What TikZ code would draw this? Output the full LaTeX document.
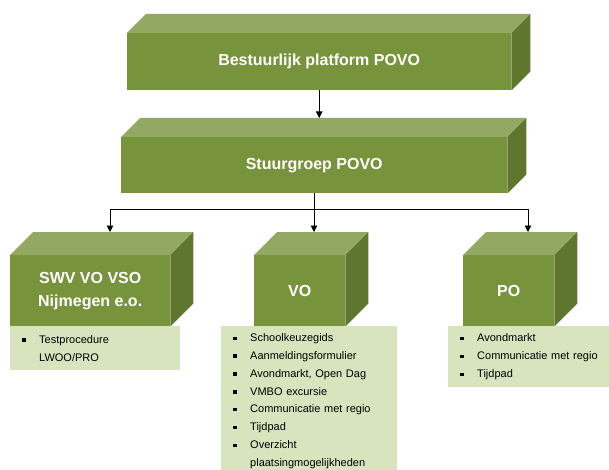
\documentclass[tikz,border=0pt]{standalone}
\usepackage{fontspec}
\setmainfont{Liberation Sans}
\usetikzlibrary{calc,arrows.meta}

\definecolor{voorgroen}{HTML}{77933C}
\definecolor{dakgroen}{HTML}{93A862}
\definecolor{zijgroen}{HTML}{5F762F}
\definecolor{lijstgroen}{HTML}{D7E4BD}

% top and side face of a block: #1 = front node, #2 = depth
\newcommand{\blokvlakken}[2]{
    \fill[dakgroen] (#1.north west) -- ++(#2,-#2) -- ($(#1.north east)+(#2,-#2)$) -- (#1.north east) -- cycle;
    \fill[zijgroen] (#1.north east) -- ++(#2,-#2) -- ($(#1.south east)+(#2,-#2)$) -- (#1.south east) -- cycle;
}
\newcommand{\punt}{\rule[1.5pt]{3.3pt}{3.3pt}\hspace{13.7pt}}
\newcommand{\inspring}{\hspace*{17pt}}

\begin{document}
\begin{tikzpicture}[x=1pt,y=-1pt,
    blok/.style={fill=voorgroen,text=white,font=\fontsize{16}{23}\selectfont\bfseries,align=center,inner sep=0pt,anchor=north west},
    lijst/.style={fill=lijstgroen,anchor=north west,align=left,inner xsep=12pt,inner ysep=6pt,font=\fontsize{11}{17.9}\selectfont},
    pijl/.style={-{Triangle[length=6.5pt,width=6.5pt]},line width=0.9pt}]
    \clip (0,0) rectangle (609,470);

    % Front faces
    \node[blok,minimum width=384pt,minimum height=57pt] (bestuur) at (127,33) {Bestuurlijk platform POVO};
    \node[blok,minimum width=386pt,minimum height=56pt] (stuur) at (121,137) {Stuurgroep POVO};
    \node[blok,minimum width=160pt,minimum height=71pt] (swv) at (10,255) {SWV VO VSO\\Nijmegen e.o.};
    \node[blok,minimum width=91pt,minimum height=71pt] (vo) at (254,255) {VO};
    \node[blok,minimum width=91pt,minimum height=71pt] (po) at (463,255) {PO};

    % Top and side faces
    \blokvlakken{bestuur}{19}
    \blokvlakken{stuur}{19}
    \foreach \blok in {swv,vo,po} {\blokvlakken{\blok}{23}}

    % Task lists
    \node[lijst,text width=146pt,minimum height=44pt] (swv-lijst) at (10,326) {\punt Testprocedure\\\inspring LWOO/PRO};
    \node[lijst,text width=152pt,minimum height=150pt] (vo-lijst) at (221,326) {\punt Schoolkeuzegids\\\punt Aanmeldingsformulier\\\punt Avondmarkt, Open Dag\\\punt VMBO excursie\\\punt Communicatie met regio\\\punt Tijdpad\\\punt Overzicht\\\inspring plaatsingmogelijkheden};
    \node[lijst,text width=150pt,minimum height=61pt] (po-lijst) at (448,326) {\punt Avondmarkt\\\punt Communicatie met regio\\\punt Tijdpad};

    % Arrows
    \coordinate (stuur-in) at ($(stuur.north)+(0,-19)$);
    \draw[pijl] (bestuur.south) -- (bestuur.south |- stuur-in);

    \coordinate (splits) at ($(stuur.south)+(0,16)$);
    \draw[line width=0.9pt] (stuur.south) -- (splits);
    \foreach \doel/\x in {swv/110,vo/314,po/528}
    {
        \coordinate (\doel-in) at (\x,232);
        \draw[pijl] (splits) -| (\doel-in);
    }
\end{tikzpicture}
\end{document}
